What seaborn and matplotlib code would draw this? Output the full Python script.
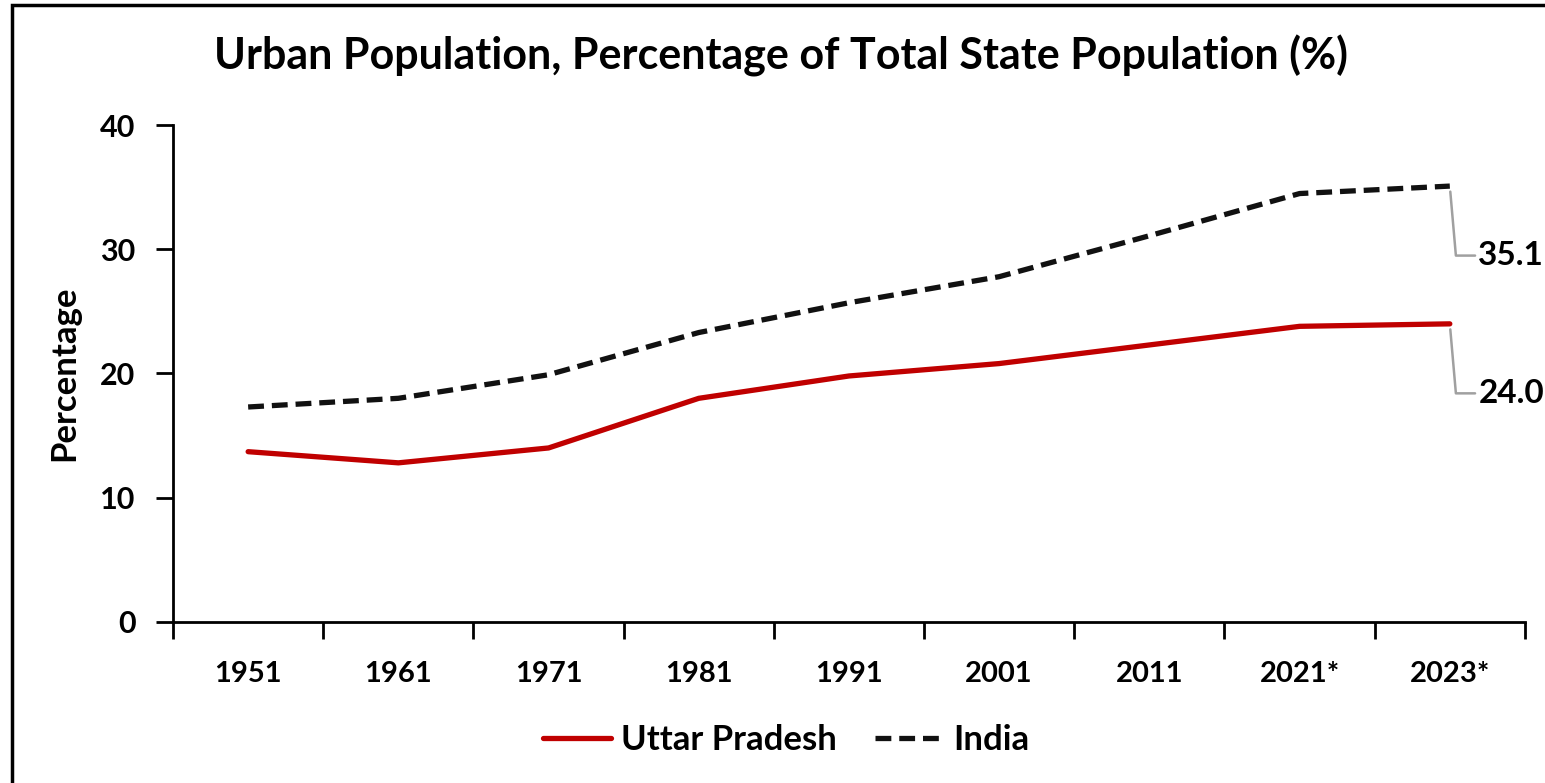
import pandas as pd
import numpy as np
import matplotlib.pyplot as plt
import matplotlib.patches as mpatches
import seaborn as sns

# Data
years = ["1951", "1961", "1971", "1981", "1991", "2001", "2011", "2021*", "2023*"]
uttar_pradesh = [13.7, 12.8, 14.0, 18.0, 19.8, 20.8, 22.3, 23.8, 24.0]
india = [17.3, 18.0, 19.9, 23.3, 25.7, 27.8, 31.1, 34.5, 35.1]
series_names = ["Uttar Pradesh", "India"]

sns.set_theme(style="white")
plt.rcParams['font.family'] = ['Lato', 'DejaVu Sans']
plt.rcParams['font.weight'] = 'bold'
for key in ["text.color", "axes.labelcolor", "xtick.color", "ytick.color"]:
    plt.rcParams[key] = "black"

df = pd.DataFrame({
    "pos": list(range(len(years))) * 2,
    "value": uttar_pradesh + india,
    "series": [series_names[0]] * len(years) + [series_names[1]] * len(years),
})

fig = plt.figure(figsize=(15.45, 7.83), dpi=100)
ax = fig.add_axes([0.112, 0.206, 0.875, 0.634])

sns.lineplot(data=df, x="pos", y="value", hue="series", style="series",
             palette={"Uttar Pradesh": "#C00000", "India": "#111111"},
             dashes={"Uttar Pradesh": "", "India": (3.0, 1.5)},
             linewidth=3.8, ax=ax, legend=False)

ax.set_xlim(-0.5, len(years) - 0.5)
ax.set_ylim(0, 40)
ax.set_yticks([0, 10, 20, 30, 40])
ax.set_yticklabels(["0", "10", "20", "30", "40"], fontsize=22, fontweight="bold")
ax.set_xticks(np.arange(-0.5, len(years), 1.0))
ax.set_xticklabels([])
ax.set_xticks(np.arange(len(years)), minor=True)
ax.set_xticklabels(years, minor=True, fontsize=21, fontweight="bold")
ax.tick_params(axis="x", which="major", bottom=True, direction="out",
               length=12, width=2, color="black")
ax.tick_params(axis="x", which="minor", bottom=True, length=0, pad=28)
ax.tick_params(axis="y", left=True, direction="out", length=12, width=2,
               color="black", pad=15)
ax.set_xlabel("")
ax.set_ylabel("Percentage", fontsize=25, fontweight="bold", labelpad=14)

for side in ["top", "right"]:
    ax.spines[side].set_visible(False)
for side in ["left", "bottom"]:
    ax.spines[side].set_color("black")
    ax.spines[side].set_linewidth(2)

ax.set_title("Urban Population, Percentage of Total State Population (%)",
             fontsize=31, fontweight="bold", pad=40, x=0.45)

# end labels with leader lines
last = len(years) - 1
for vals in [india, uttar_pradesh]:
    v = vals[-1]
    ax.annotate(f"{v:.1f}", xy=(last, v), xytext=(last + 0.19, v - 5.6),
                fontsize=24, fontweight="bold", va="center", ha="left",
                annotation_clip=False,
                arrowprops=dict(arrowstyle="-", color="#A0A0A0", lw=1.8,
                                shrinkA=0, shrinkB=4,
                                connectionstyle="angle,angleA=180,angleB=95,rad=0"))

# legend
handles = [
    plt.Line2D([], [], color="#C00000", lw=3.8),
    plt.Line2D([], [], color="#111111", lw=3.8, dashes=(3.0, 1.5)),
]
fig.legend(handles, series_names, loc="center", bbox_to_anchor=(0.509, 0.055),
           ncol=2, frameon=False, fontsize=25, handlelength=1.95,
           columnspacing=1.1, handletextpad=0.3)

# outer frame
fig.patches.append(mpatches.Rectangle((12 / 1545, -0.05), 1.2, 1 - 5.5 / 783 + 0.05,
                                      transform=fig.transFigure, fill=False,
                                      edgecolor="black", linewidth=2.5))

fig.savefig("out.png", dpi=100)
